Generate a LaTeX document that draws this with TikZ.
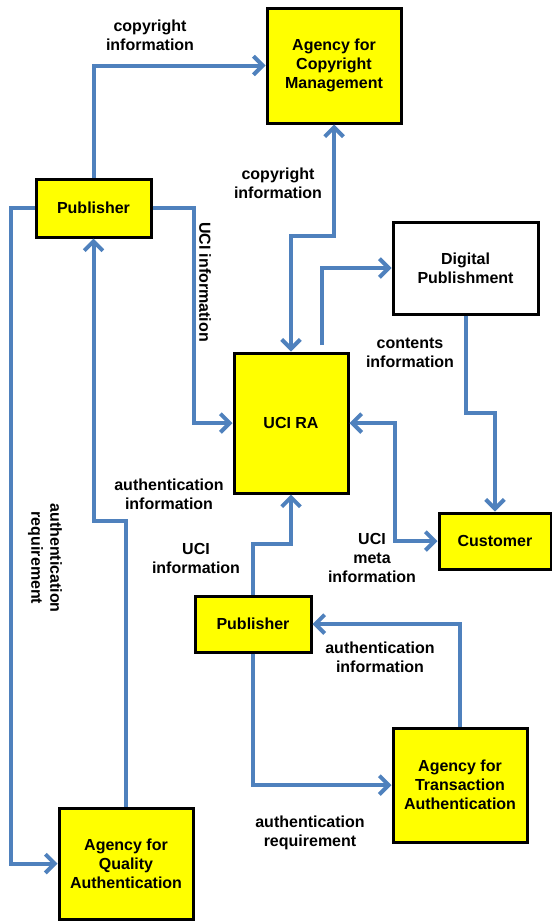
\documentclass[tikz,border=0pt]{standalone}
\usepackage{fontspec}
\setmainfont{Liberation Sans}
\usetikzlibrary{arrows.meta}
\definecolor{flowblue}{HTML}{4F81BD}
\definecolor{boxyellow}{HTML}{FFFF00}
\begin{document}
\begin{tikzpicture}[x=0.75pt,y=-0.75pt,
  txt/.style={font=\fontsize{12}{14.25}\selectfont\bfseries, align=center, inner sep=0pt},
  box/.style 2 args={draw=black, line width=2.25pt, fill=boxyellow, txt,
    minimum width=#1*0.75pt, minimum height=#2*0.75pt},
  plainbox/.style 2 args={box={#1}{#2}, fill=white},
  flow/.style={draw=flowblue, line width=3pt,
    -{Straight Barb[length=7pt,width=14pt,line width=3pt]}},
  flowboth/.style={flow, {Straight Barb[length=7pt,width=14pt,line width=3pt]}-{Straight Barb[length=7pt,width=14pt,line width=3pt]}},
  lbl/.style={txt}]
\useasboundingbox (0,0) rectangle (552,921);

% boxes
\node[box={134}{115}] (cm)   at (334,65.5) {Agency for\\Copyright\\Management};
\node[box={115}{58}]  (p1)   at (93.5,208) {Publisher};
\node[plainbox={145}{92}] (dp) at (465.5,268) {Digital\\Publishment};
\node[box={114}{140}] (uci)  at (291,423) {UCI RA};
\node[box={112}{56}]  (cust) at (495,541) {Customer};
\node[box={116}{56}]  (p2)   at (253,624) {Publisher};
\node[box={134}{114}] (ta)   at (460,785) {Agency for\\Transaction\\Authentication};
\node[box={134}{111}] (qa)   at (126,863.5) {Agency for\\Quality\\Authentication};

% connectors
\draw[flow] (p1.north) |- (cm.west);
\draw[flow] (p1.west) -- ++(-24,0) |- (qa.west);
\draw[flow] (qa.north) -- ++(0,-286) -| (p1.south);
\draw[flow] (p1.east) -- ++(41,0) |- (uci.west);
\draw[flowboth] (uci.north) -- ++(0,-116) -| (cm.south);
\coordinate (dpstart) at (322,345);
\draw[flow] (dpstart) |- (dp.west);
\draw[flow] (dp.south) -- ++(0,97) -| (cust.north);
\draw[flowboth] (uci.east) -- ++(45,0) |- (cust.west);
\draw[flow] (p2.north) -- ++(0,-51) -| (uci.south);
\draw[flow] (ta.north) |- (p2.east);
\draw[flow] (p2.south) |- (ta.west);

% labels
\node[lbl] (l1) at (150,35.5) {copyright\\information};
\node[lbl] (l2) at (278,183) {copyright\\information};
\node[lbl, rotate=-90] (l3) at (205,282) {UCI information};
\node[lbl] (l4) at (410,353) {contents\\information};
\node[lbl] (l5) at (169,494) {authentication\\information};
\node[lbl, rotate=-90] (l6) at (45,558) {authentication\\requirement};
\node[lbl] (l7) at (196,558) {UCI\\information};
\node[lbl] (l8) at (372,558) {UCI\\meta\\information};
\node[lbl] (l9) at (380,657) {authentication\\information};
\node[lbl] (l10) at (310,833) {authentication\\requirement};
\end{tikzpicture}
\end{document}
